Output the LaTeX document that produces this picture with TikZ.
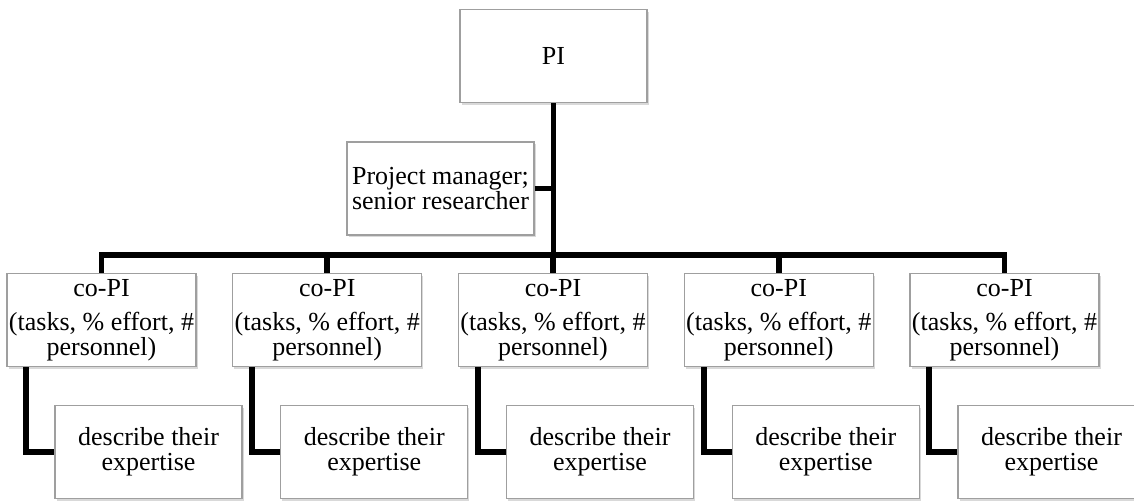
\documentclass[tikz,border=0pt]{standalone}
\usepackage{fontspec}
\setmainfont{Liberation Serif}
\usetikzlibrary{calc,positioning,shadows}

\begin{document}
\begin{tikzpicture}[
        x=0.5pt, y=-0.5pt,
        org box/.style={draw=gray!75, line width=0.6pt, fill=white,
            minimum width=93.5pt, minimum height=46.5pt, inner sep=1pt, align=center,
            font=\fontsize{13}{12.5}\selectfont,
            drop shadow={shadow xshift=0.8pt, shadow yshift=-1pt, opacity=0.3, fill=gray}},
        org line/.style={line width=2.9pt, black}
    ]
    \useasboundingbox (0,0) rectangle (1134,500);

    \node[org box] (pi) at (553.5,56) {PI};
    \node[org box] (pm) at (440.5,188.5) {Project manager;\\senior researcher};
    \coordinate (bar) at (553.5,255);

    \foreach \i in {1,...,5} {
        \node[org box] (copi\i) at ({101.5+(\i-1)*225.75},320)
            {co-PI\\[4.5pt](tasks, \% effort, \#\\personnel)};
        \node[org box] (desc\i) at ({148.5+(\i-1)*225.75},452)
            {describe their\\expertise};
    }

    % trunk and branches
    \draw[org line] (pi.south) -- (bar);
    \draw[org line] (pm.east) -- (pm.east -| bar);
    \draw[org line] (copi1.north) -- (copi1.north |- bar) -- (copi5.north |- bar) -- (copi5.north);
    \foreach \i in {2,3,4} {
        \draw[org line] (copi\i.north |- bar) -- (copi\i.north);
    }
    \foreach \i in {1,...,5} {
        \draw[org line] ([xshift=10pt]copi\i.south west) |- (desc\i.west);
    }
\end{tikzpicture}
\end{document}
